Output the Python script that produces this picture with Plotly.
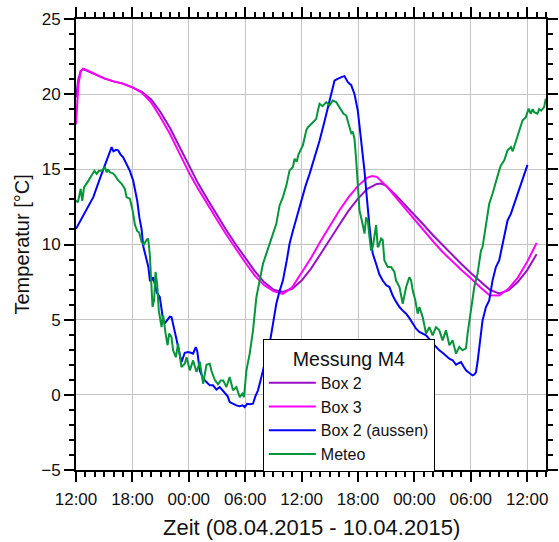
import pandas as pd
import plotly.graph_objects as go

START = pd.Timestamp("2015-04-08 12:00")

# Box 2 (inside) - hours since start, temperature in °C
box2_h = [0, 0.25, 0.5, 0.75, 1, 2, 3, 4, 5, 6, 7, 8, 9, 10, 11, 12, 13, 14, 15, 16, 17, 18, 19, 20,
          21, 22, 23, 24, 25, 26, 27, 28, 29, 30, 31, 32, 32.5, 33, 34, 35, 36, 37, 38, 39, 40, 41, 42,
          43, 44, 45, 46, 47, 48, 49]
box2_t = [19.8, 21.0, 21.55, 21.65, 21.6, 21.3, 21.05, 20.85, 20.7, 20.45, 20.15, 19.65, 18.8, 17.75,
          16.5, 15.2, 14.05, 13.0, 11.95, 10.95, 10.0, 9.1, 8.25, 7.5, 7.0, 6.85, 7.05, 7.6, 8.4, 9.35,
          10.35, 11.3, 12.25, 13.05, 13.7, 14.03, 14.05, 13.9, 13.3, 12.65, 12.0, 11.3, 10.6, 9.95, 9.3,
          8.7, 8.1, 7.55, 7.0, 6.75, 6.95, 7.5, 8.3, 9.35]

# Box 3 (inside)
box3_h = [0, 0.25, 0.5, 0.75, 1, 2, 3, 4, 5, 6, 7, 8, 9, 10, 11, 12, 13, 14, 15, 16, 17, 18, 19, 20,
          21, 22, 23, 24, 25, 26, 27, 28, 29, 30, 31, 31.5, 32, 33, 34, 35, 36, 37, 38, 39, 40, 41, 42,
          43, 44, 45, 46, 47, 48, 49]
box3_t = [18.0, 20.6, 21.5, 21.7, 21.65, 21.35, 21.05, 20.85, 20.7, 20.45, 20.1, 19.45, 18.45, 17.35,
          16.1, 14.8, 13.7, 12.65, 11.65, 10.65, 9.7, 8.8, 7.95, 7.3, 6.9, 6.72, 7.15, 8.1, 9.1, 10.2,
          11.25, 12.25, 13.15, 13.9, 14.45, 14.56, 14.5, 13.9, 13.15, 12.4, 11.7, 10.95, 10.2, 9.5, 8.88,
          8.3, 7.75, 7.15, 6.62, 6.6, 7.05, 7.8, 8.85, 10.1]

# Box 2, outside sensor
aussen_h = [0, 0.85, 1.84, 2.55, 3.19, 3.56, 3.79, 3.98, 4.25, 4.49, 4.73, 5.02, 5.36, 5.73, 6.08, 6.3,
            6.51, 6.74, 6.98, 7.15, 7.33, 7.51, 7.7, 7.86, 8.04, 8.21, 8.39, 8.6, 8.92, 9.1, 9.27, 9.5,
            9.8, 9.98, 10.16, 10.35, 10.51, 10.69, 10.86, 11.04, 11.22, 11.57, 11.93, 12.21, 12.46,
            12.74, 12.9, 13.17, 13.52, 13.88, 14.23, 14.58, 14.94, 15.29, 15.61, 15.82, 16.14, 16.35,
            16.7, 17.06, 17.42, 17.73, 17.95, 18.21, 18.48, 18.83, 19.08, 19.36, 19.65, 19.89, 20.25,
            20.6, 20.95, 21.31, 21.66, 22.01, 22.41, 22.72, 23.07, 23.52, 23.97, 24.42, 24.85, 25.38,
            25.91, 26.44, 26.97, 27.29, 27.5, 27.77, 28.03, 28.3, 28.56, 28.74, 28.92, 29.28, 29.63,
            29.98, 30.16, 30.34, 30.51, 30.69, 30.87, 31.04, 31.22, 31.4, 31.57, 31.93, 32.28, 32.63,
            32.99, 33.34, 33.69, 34.05, 34.41, 34.76, 35.12, 35.47, 35.82, 36.18, 36.53, 36.88, 37.24,
            37.59, 37.94, 38.3, 38.65, 39.0, 39.36, 39.72, 40.07, 40.43, 40.62, 40.96, 41.21, 41.49,
            41.84, 42.19, 42.37, 42.55, 42.72, 42.9, 43.25, 43.61, 43.96, 44.31, 44.67, 45.02, 45.38,
            45.66, 45.91, 46.27, 46.62, 46.93, 47.15, 47.5, 47.79, 48.03]
aussen_t = [11.05, 12.0, 13.15, 14.4, 15.5, 16.1, 16.48, 16.2, 16.3, 16.26, 16.0, 15.8, 15.4, 14.9,
            14.26, 13.6, 12.93, 11.8, 11.0, 9.9, 9.4, 8.94, 8.5, 7.6, 7.6, 7.83, 7.4, 6.8, 6.5, 5.5,
            4.95, 4.8, 5.06, 5.2, 5.17, 4.7, 4.29, 3.7, 3.18, 2.6, 2.18, 2.8, 2.85, 2.8, 2.74, 3.18,
            2.9, 1.6, 1.1, 0.85, 0.63, 0.63, 0.35, 0.52, 0.3, 0.19, -0.1, -0.48, -0.6, -0.7, -0.75,
            -0.7, -0.81, -0.6, -0.63, -0.59, -0.1, 0.3, 1.0, 1.63, 2.5, 3.4, 4.7, 6.06, 6.9, 7.6, 8.9,
            10.05, 10.9, 11.9, 12.93, 13.9, 14.7, 15.8, 16.9, 18.2, 19.6, 20.4, 20.9, 21.0, 21.1,
            21.15, 21.2, 21.0, 20.8, 20.6, 20.0, 18.9, 17.9, 17.1, 16.0, 14.9, 13.6, 12.3, 11.2, 10.2,
            9.4, 8.7, 8.0, 7.6, 7.3, 7.17, 6.6, 6.2, 5.84, 5.6, 5.4, 5.1, 4.73, 4.4, 4.18, 4.05, 3.96,
            3.7, 3.4, 3.2, 2.96, 2.8, 2.63, 2.4, 2.3, 2.0, 2.07, 2.18, 1.9, 1.63, 1.45, 1.3, 1.35, 1.5,
            2.2, 3.18, 4.95, 5.84, 6.28, 7.6, 8.5, 8.94, 10.05, 10.9, 11.6, 12.05, 12.7, 13.3, 13.6,
            14.26, 14.8, 15.3]

# Weather station
meteo_h = [0, 0.2, 0.5, 0.67, 0.85, 1.14, 1.38, 1.67, 1.96, 2.2, 2.44, 2.73, 3.08, 3.26, 3.4, 3.61,
           3.88, 4.14, 4.49, 4.85, 5.2, 5.38, 5.73, 6.02, 6.27, 6.51, 6.72, 6.98, 7.22, 7.5, 7.68,
           7.86, 8.14, 8.31, 8.46, 8.63, 8.81, 9.1, 9.27, 9.53, 9.74, 9.91, 10.16, 10.33, 10.62,
           10.86, 11.22, 11.57, 11.76, 12.11, 12.46, 12.82, 13.17, 13.52, 13.88, 14.23, 14.41, 14.76,
           15.11, 15.4, 15.66, 16.0, 16.35, 16.7, 17.06, 17.42, 17.7, 17.87, 18.13, 18.48, 18.83,
           19.19, 19.46, 19.89, 20.25, 20.6, 20.95, 21.31, 21.66, 22.01, 22.37, 22.72, 22.9, 23.07,
           23.26, 23.47, 23.68, 23.97, 24.14, 24.5, 24.67, 24.85, 25.2, 25.56, 25.73, 25.91, 26.23,
           26.62, 26.97, 27.32, 27.68, 27.93, 28.21, 28.46, 28.75, 28.92, 29.1, 29.28, 29.45, 29.63,
           29.81, 29.98, 30.16, 30.51, 30.69, 30.87, 31.04, 31.22, 31.4, 31.57, 31.93, 32.1, 32.2,
           32.46, 32.63, 32.81, 33.16, 33.52, 33.87, 34.05, 34.41, 34.76, 35.12, 35.47, 35.65, 35.82,
           36.1, 36.35, 36.53, 36.88, 37.24, 37.59, 37.94, 38.3, 38.65, 39.0, 39.36, 39.72, 40.07,
           40.43, 40.78, 41.13, 41.49, 41.66, 42.02, 42.37, 42.72, 43.08, 43.25, 43.61, 43.96, 44.31,
           44.67, 45.02, 45.2, 45.56, 45.91, 46.27, 46.46, 46.8, 47.15, 47.5, 47.86, 48.14, 48.39,
           48.58, 48.74, 49.09, 49.27, 49.48, 49.8, 49.98]
meteo_t = [12.93, 12.8, 13.7, 12.9, 13.8, 14.04, 14.3, 14.6, 14.9, 14.7, 14.9, 14.9, 15.15, 14.8,
           15.0, 14.8, 14.75, 14.6, 14.26, 14.04, 13.7, 13.15, 13.04, 12.27, 11.3, 10.9, 10.8, 10.16,
           10.0, 10.3, 10.4, 9.27, 5.84, 6.28, 8.17, 7.4, 5.6, 4.5, 5.28, 4.07, 3.3, 4.07, 3.84, 2.96,
           2.5, 3.4, 1.85, 2.07, 2.5, 1.63, 2.29, 1.52, 2.2, 0.74, 2.0, 2.07, 1.6, 1.0, 0.7, 0.96,
           0.96, 0.52, 1.18, 0.3, 0.52, -0.15, 0.08, -0.15, 1.63, 2.74, 4.29, 6.5, 7.4, 8.72, 9.39,
           10.05, 10.8, 11.38, 12.6, 13.15, 13.9, 14.93, 15.04, 15.15, 15.7, 15.5, 16.0, 16.4, 16.6,
           17.6, 17.8, 17.9, 18.1, 18.36, 18.9, 19.36, 19.2, 19.47, 19.25, 19.58, 19.47, 19.2, 18.9,
           18.7, 18.58, 18.25, 17.9, 17.4, 17.5, 17.0, 15.6, 13.8, 12.27, 11.3, 10.72, 11.8, 11.6,
           10.5, 9.6, 9.83, 11.3, 9.83, 9.9, 10.4, 10.3, 8.94, 8.5, 8.5, 8.17, 7.6, 7.17, 6.06, 7.17,
           7.83, 7.6, 6.95, 6.28, 5.4, 5.84, 5.17, 4.07, 4.5, 3.96, 4.5, 4.29, 3.62, 4.29, 3.3, 3.62,
           2.74, 3.18, 2.96, 3.1, 4.07, 5.84, 7.17, 8.06, 9.6, 9.83, 11.38, 12.71, 13.38, 14.26,
           14.93, 15.26, 15.6, 16.26, 16.48, 16.2, 16.92, 17.59, 18.25, 18.47, 19.03, 18.7, 19.0,
           18.8, 18.7, 19.0, 18.9, 19.14, 19.7]

series = [
    ("Box 2", box2_h, box2_t, "#9a0fc8"),
    ("Box 3", box3_h, box3_t, "#ff00ff"),
    ("Box 2 (aussen)", aussen_h, aussen_t, "#0000ff"),
    ("Meteo", meteo_h, meteo_t, "#05953a"),
]

FONT = "Liberation Sans, Arial, sans-serif"

fig = go.Figure()
for name, hours, temps, color in series:
    times = START + pd.to_timedelta(hours, unit="h")
    fig.add_trace(go.Scatter(x=times, y=temps, mode="lines", name=name,
                             line=dict(color=color, width=2)))

axis_common = dict(
    showline=True, linecolor="black", linewidth=2, mirror="ticks",
    ticks="outside", ticklen=10, tickwidth=2, tickcolor="black",
    showgrid=True, gridcolor="#c4c4c4", gridwidth=1, zeroline=False,
    tickfont=dict(family=FONT, size=17, color="#111"),
    automargin=False,
)

fig.update_layout(
    width=559, height=542,
    margin=dict(l=76, r=13, t=19, b=72),
    plot_bgcolor="white", paper_bgcolor="white",
    font=dict(family=FONT, color="#111"),
    xaxis=dict(
        **axis_common,
        type="date",
        range=[START, START + pd.Timedelta(hours=50)],
        tick0="2015-04-08 00:00", dtick=6 * 3600 * 1000,
        tickformat="%H:%M",
        ticklabelstandoff=3,
        minor=dict(ticks="outside", ticklen=5, tickwidth=1.5, tickcolor="black",
                   dtick=3600 * 1000, showgrid=False),
    ),
    yaxis=dict(
        **axis_common,
        range=[-5, 25], dtick=5, tick0=0,
        minor=dict(ticks="outside", ticklen=5, tickwidth=1.5, tickcolor="black",
                   dtick=1, showgrid=False),
    ),
    legend=dict(
        x=0.3975, xanchor="left", y=-0.005, yanchor="bottom",
        bgcolor="white", bordercolor="black", borderwidth=1,
        font=dict(family=FONT, size=16, color="#111"),
        title=dict(text="Messung M4", side="top center", font=dict(size=19.6, family=FONT)),
        tracegroupgap=0, itemwidth=47,
    ),
    annotations=[
        dict(text="Zeit (08.04.2015 - 10.04.2015)", xref="paper", yref="paper",
             x=0.5, y=-0.128, xanchor="center", yanchor="middle", showarrow=False,
             font=dict(size=22, family=FONT, color="#111")),
        dict(text="Temperatur [°C]", xref="paper", yref="paper", textangle=-90,
             x=-0.117, y=0.5, xanchor="center", yanchor="middle", showarrow=False,
             font=dict(size=20, family=FONT, color="#111")),
    ],
)

fig.write_html("out.html")
